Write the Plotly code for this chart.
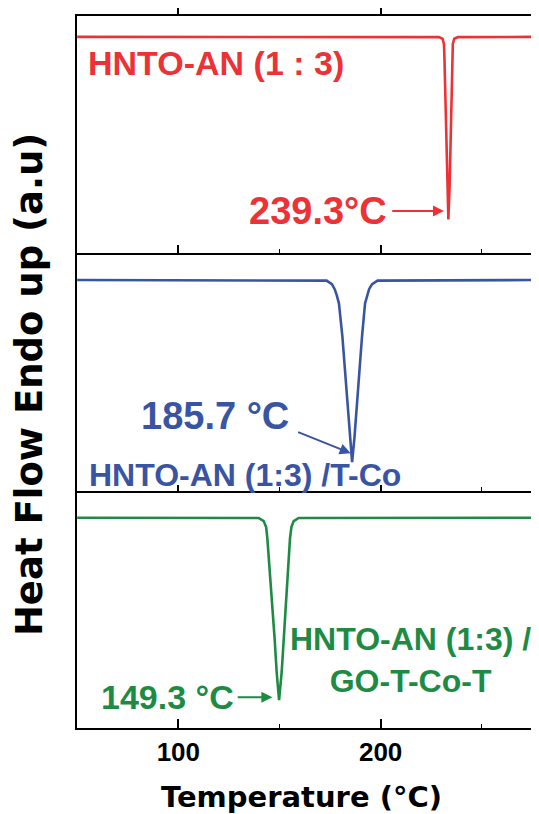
import plotly.graph_objects as go

# ---------------- data ----------------
temp_red = [50, 228.8, 230.6, 231.3, 231.5, 231.85, 232.25, 232.6, 232.9, 233.5,
            234.1, 234.4, 234.75, 235.15, 235.5, 235.7, 236.4, 238.2, 280]
flow_red = [91.2, 91.1, 90.4, 88.2, 84.2, 70.1, 56.1, 42.1, 28.0, 14.3,
            28.0, 42.1, 56.1, 70.1, 84.2, 88.2, 90.4, 91.1, 91.2]

temp_blue = [50, 173.3, 175.9, 177.3, 178.3, 179.4, 181.1, 182.4, 183.6, 184.7, 185.9,
             187.1, 188.3, 189.6, 190.8, 192.3, 193.4, 194.3, 195.8, 198.5, 280]
flow_blue = [88.75, 88.5, 87.0, 84.9, 82.4, 78.9, 64.9, 50.8, 36.8, 22.7, 12.0,
             22.7, 36.8, 50.8, 64.9, 78.9, 82.4, 84.9, 87.0, 88.5, 88.75]

temp_green = [50, 139.7, 142.2, 143.4, 144.0, 145.3, 146.5, 147.6, 148.6, 149.8,
              151.1, 152.1, 153.2, 154.2, 155.2, 155.9, 157.0, 159.5, 280]
flow_green = [88.6, 88.5, 87.2, 84.7, 79.9, 65.8, 51.8, 37.7, 23.6, 11.7,
              23.6, 37.7, 51.8, 65.8, 79.9, 84.7, 87.2, 88.5, 88.6]

x_tick_vals = [100, 200]
x_tick_text = ["100", "200"]

RED = "#EC3236"
BLUE = "#3A54A4"
GREEN = "#1E8B44"
ARIAL = "Liberation Sans, Arial, sans-serif"
DEJAVU = "DejaVu Sans, Verdana, sans-serif"

# the page body adds an 8 px margin, so the figure is shifted by 8 px
OFF = 8
W, H = 539 - OFF, 814 - OFF
ML, MR, MT, MB = 77 - OFF, 0, 16 - OFF, 86
XR = [49.9, 278.3]

fig = go.Figure()
fig.add_trace(go.Scatter(x=temp_red, y=flow_red, mode="lines",
                         line=dict(color=RED, width=2.6), xaxis="x", yaxis="y",
                         showlegend=False, hoverinfo="skip"))
fig.add_trace(go.Scatter(x=temp_blue, y=flow_blue, mode="lines",
                         line=dict(color=BLUE, width=2.6), xaxis="x2", yaxis="y2",
                         showlegend=False, hoverinfo="skip"))
fig.add_trace(go.Scatter(x=temp_green, y=flow_green, mode="lines",
                         line=dict(color=GREEN, width=2.6), xaxis="x3", yaxis="y3",
                         showlegend=False, hoverinfo="skip"))
# dummy trace to create the top axis of the first panel
fig.add_trace(go.Scatter(x=[None], y=[None], mode="lines", xaxis="x4", yaxis="y",
                         showlegend=False, hoverinfo="skip"))

def xax(anchor, labels, tlen, mlen):
    return dict(
        anchor=anchor, range=XR, showline=True, linecolor="black", linewidth=1.8,
        ticks="inside", ticklen=tlen, tickwidth=1.6, tickcolor="black",
        tickvals=x_tick_vals, ticktext=x_tick_text, showticklabels=labels,
        tickfont=dict(family=ARIAL, size=26, color="black", weight="bold"),
        minor=dict(ticks="inside", ticklen=mlen, tickwidth=1.4, tickcolor="black",
                   dtick=50, tick0=0, showgrid=False),
        showgrid=False, zeroline=False, fixedrange=True,
    )

def yax(domain, anchor):
    return dict(domain=domain, anchor=anchor, range=[0, 100], showline=True,
                linecolor="black", linewidth=1.8, ticks="", showticklabels=False,
                showgrid=False, zeroline=False, fixedrange=True)

fig.update_layout(
    width=W, height=H,
    margin=dict(l=ML, r=MR, t=MT, b=MB, pad=0),
    paper_bgcolor="white", plot_bgcolor="white",
    showlegend=False,
    xaxis=xax("y", False, 8, 4),
    xaxis2=xax("y2", False, 6, 3.5),
    xaxis3=xax("y3", True, 9, 4),
    xaxis4=dict(overlaying="x", anchor="y", side="top", range=XR, showline=True,
                linecolor="black", linewidth=1.8, ticks="outside", ticklen=9,
                tickwidth=1.6, tickcolor="black", tickvals=x_tick_vals,
                showticklabels=False, showgrid=False, zeroline=False, fixedrange=True),
    yaxis=yax([2/3, 1], "x"),
    yaxis2=yax([1/3, 2/3], "x2"),
    yaxis3=yax([0, 1/3], "x3"),
)

def label(text, x, y, yref, xref, color, size, xanchor="left", align="left"):
    fig.add_annotation(text=text, x=x, y=y, xref=xref, yref=yref, showarrow=False,
                       xanchor=xanchor, yanchor="middle", align=align,
                       font=dict(family=ARIAL, size=size, color=color, weight="bold"))

def arrow(x0, y0, x1, y1, xref, yref, color):
    fig.add_annotation(text="", x=x1, y=y1, ax=x0, ay=y0, xref=xref, yref=yref,
                       axref=xref, ayref=yref, showarrow=True, arrowhead=2,
                       arrowsize=1.1, arrowwidth=2, arrowcolor=color, standoff=0,
                       startstandoff=0)

# panel 1 (red)
label("HNTO-AN (1 : 3)", 54.2, 80.1, "y", "x", RED, 34)
label("239.3°C", 204.1, 17.9, "y", "x", RED, 38, xanchor="right")
arrow(205.0, 17.8, 231.3, 17.8, "x", "y", RED)

# panel 2 (blue)
label("185.7 °C", 155.8, 31.6, "y2", "x2", BLUE, 38, xanchor="right")
arrow(158.5, 24.9, 185.2, 15.8, "x2", "y2", BLUE)
label("HNTO-AN (1:3) /T-Co", 55.0, 6.7, "y2", "x2", BLUE, 32)

# panel 3 (green)
label("149.3 °C", 128.3, 13.0, "y3", "x3", GREEN, 34, xanchor="right")
arrow(128.6, 13.0, 146.5, 13.0, "x3", "y3", GREEN)
label("HNTO-AN (1:3) /<br>GO-T-Co-T", 214.7, 28.6, "y3", "x3", GREEN, 32,
      xanchor="center", align="center")

# axis titles (positions given in window pixels, converted to paper coords)
plot_w = W - ML - MR
plot_h = H - MT - MB
def px_to_paper(px, py):
    return (px - OFF - ML) / plot_w, (H - MB - (py - OFF)) / plot_h

tx, ty = px_to_paper(29.3, 384.8)
fig.add_annotation(text="Heat Flow Endo up (a.u)", textangle=-90,
                   x=tx, y=ty, xref="paper", yref="paper", showarrow=False,
                   xanchor="center", yanchor="middle",
                   font=dict(family=DEJAVU, size=37, color="black", weight="bold"))
tx, ty = px_to_paper(301.7, 796.7)
fig.add_annotation(text="Temperature (°C)",
                   x=tx, y=ty, xref="paper", yref="paper", showarrow=False,
                   xanchor="center", yanchor="middle",
                   font=dict(family=DEJAVU, size=29, color="black", weight="bold"))

fig.write_html("out.html")
